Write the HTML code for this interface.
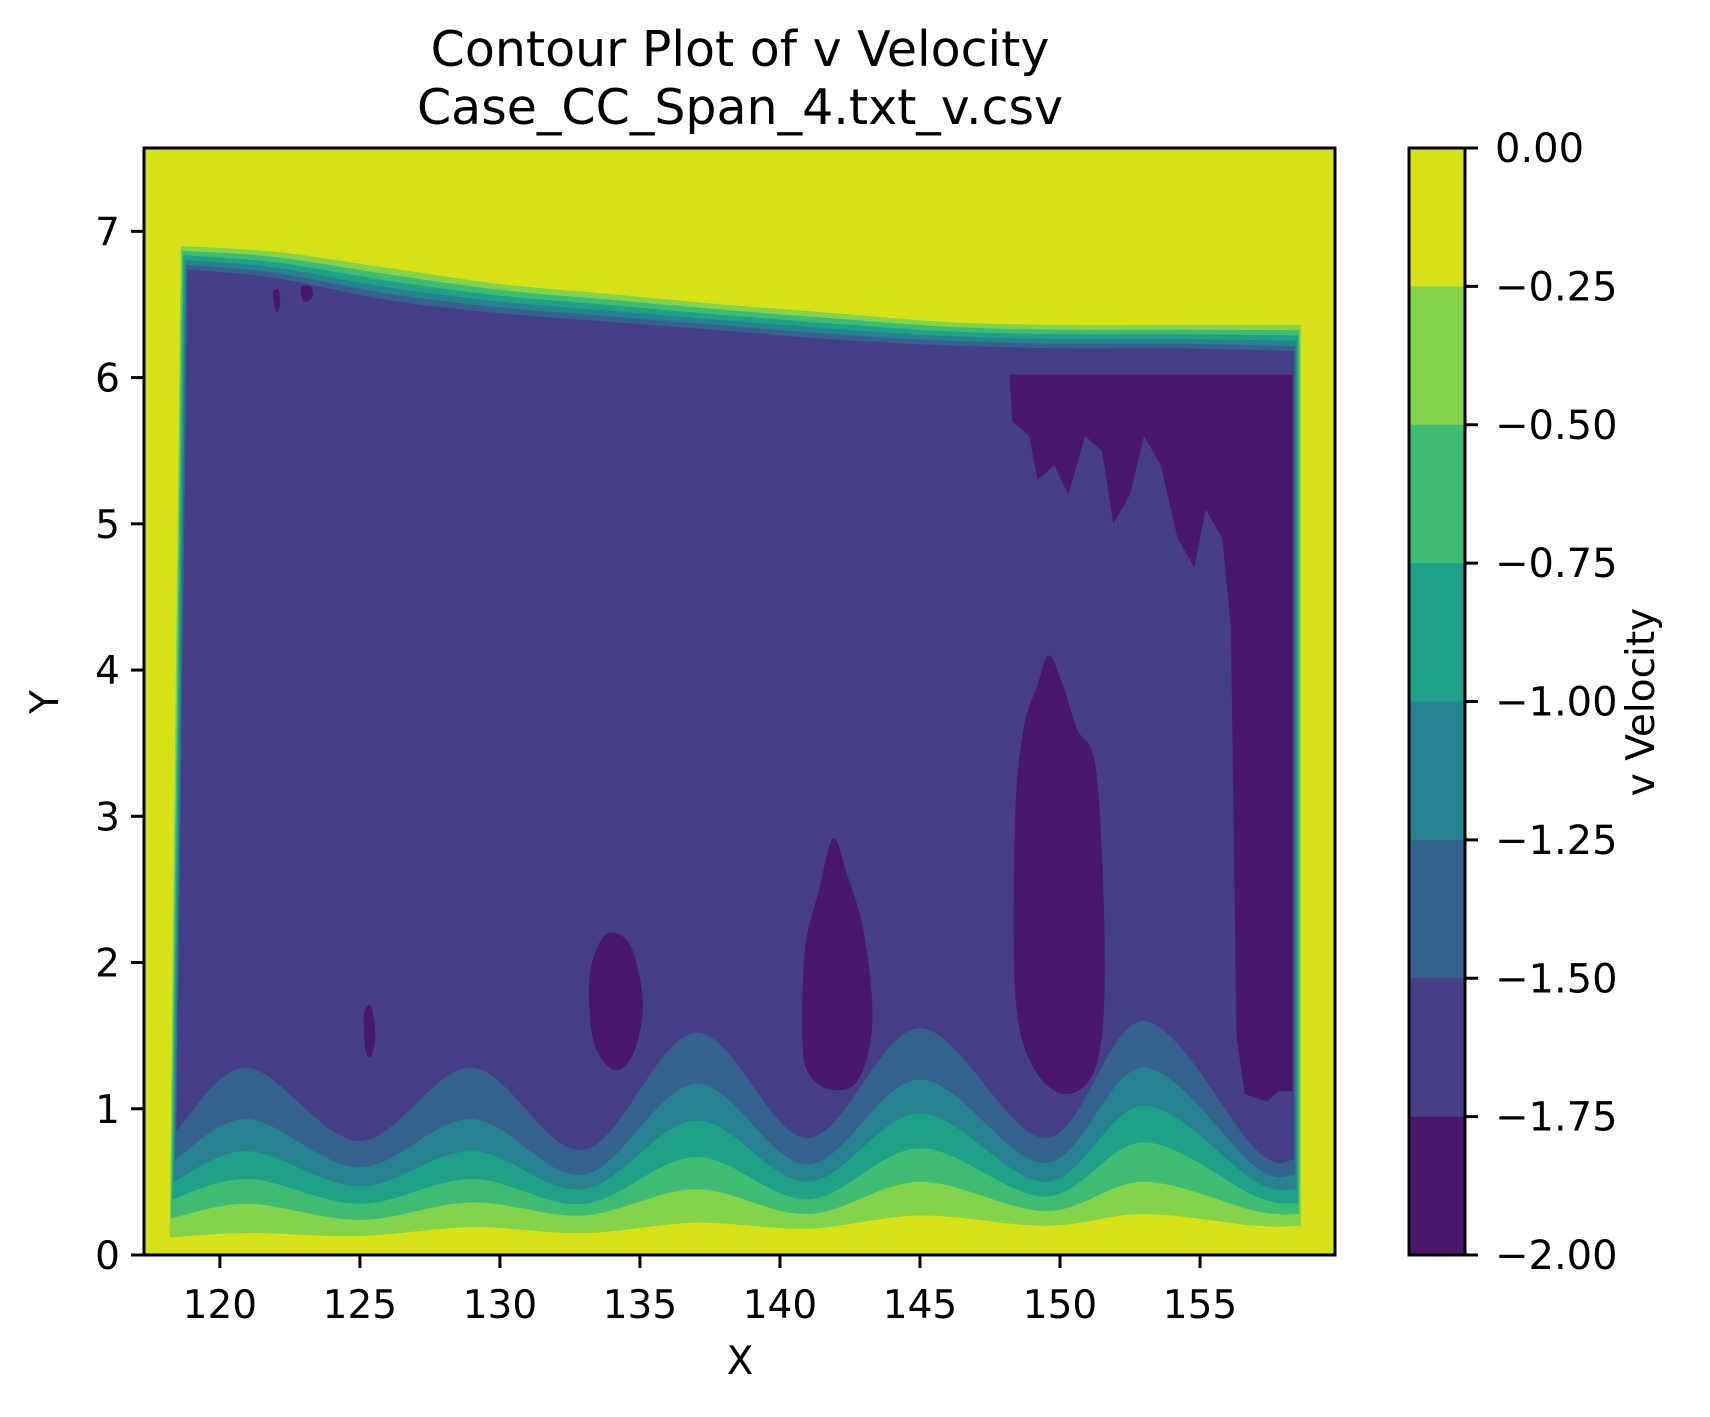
<!DOCTYPE html>
<html><head><meta charset="utf-8"><style>
html,body{margin:0;padding:0;background:#fff;}
svg{display:block;font-family:"DejaVu Sans","Liberation Sans",sans-serif;}
</style></head><body>
<svg id="chart" width="1710" height="1417" viewBox="0 0 1710 1417" xmlns="http://www.w3.org/2000/svg">
<text x="740" y="66" font-size="49" text-anchor="middle">Contour Plot of v Velocity</text>
<text x="740" y="124" font-size="49" text-anchor="middle">Case_CC_Span_4.txt_v.csv</text>
<g id="plot"></g>
<g id="axes"></g>
<g id="cbar"></g>
<text x="740" y="1374" font-size="39" text-anchor="middle">X</text>
<text transform="translate(58,702) rotate(-90)" font-size="39" text-anchor="middle">Y</text>
<text transform="translate(1654,702) rotate(-90)" font-size="39" text-anchor="middle">v Velocity</text>
</svg>
<script>
// ---- data ----
const xTicks = [120,125,130,135,140,145,150,155];
const yTicks = [0,1,2,3,4,5,6,7];
const levels = [0,-0.25,-0.5,-0.75,-1,-1.25,-1.5,-1.75,-2];
const levelLabels = ["0.00","\u22120.25","\u22120.50","\u22120.75","\u22121.00","\u22121.25","\u22121.50","\u22121.75","\u22122.00"];
const bandColors = ["#d8e219","#84d44b","#3fbc73","#1fa187","#26828e","#34618d","#433e85","#481769"];
// bottom boundaries
const xsB = [118.5,121,125,129,133,137,141,145,149.5,153,157,158.6];
const b025 = [0.12,0.15,0.13,0.19,0.15,0.22,0.18,0.27,0.20,0.28,0.20,0.20];
const b050 = [0.25,0.35,0.24,0.36,0.27,0.45,0.28,0.50,0.30,0.50,0.30,0.28];
const b075 = [0.38,0.52,0.35,0.52,0.35,0.67,0.38,0.73,0.40,0.77,0.40,0.35];
const b100 = [0.50,0.71,0.47,0.71,0.45,0.92,0.50,0.97,0.50,1.02,0.50,0.45];
const b125 = [0.65,0.93,0.60,0.93,0.55,1.17,0.62,1.20,0.63,1.28,0.60,0.55];
const b150 = [0.85,1.28,0.78,1.28,0.72,1.52,0.80,1.55,0.80,1.60,0.72,0.65];
// top boundaries
const xsT = [118.6,122,126,130,134,138,142,146,150,154,158.6];
const tEdge = [6.90,6.86,6.75,6.64,6.57,6.50,6.44,6.38,6.36,6.36,6.36];
const tInner = [6.74,6.68,6.53,6.44,6.38,6.32,6.26,6.22,6.20,6.20,6.18];
// dark (< -1.75) regions
const blob1 = [[133.3,1.5],[133.2,1.9],[133.6,2.15],[134.1,2.2],[134.7,2.1],[135.1,1.75],[134.9,1.45],[134.4,1.28],[133.8,1.3]];
const blob2 = [[140.8,1.5],[140.9,2.1],[141.4,2.5],[141.9,2.85],[142.4,2.6],[143.0,2.2],[143.3,1.6],[142.8,1.2],[141.8,1.13],[141.0,1.25]];
const blob3 = [[148.4,1.8],[148.4,3.0],[148.7,3.6],[149.2,3.9],[149.6,4.1],[150.1,3.9],[150.6,3.6],[151.3,3.3],[151.6,2.0],[151.3,1.3],[150.2,1.1],[149.0,1.3]];
const blobRight = [[156.6,1.1],[156.3,1.5],[156.2,3.0],[156.1,4.3],[155.8,4.9],[155.2,5.1],[154.8,4.7],[154.2,4.9],[153.6,5.4],[153.0,5.6],[152.5,5.2],[151.9,5.0],[151.5,5.5],[150.9,5.6],[150.3,5.2],[149.8,5.4],[149.2,5.3],[148.9,5.6],[148.3,5.7],[148.2,6.02],[158.3,6.02],[158.3,1.12],[157.8,1.12],[157.4,1.05]];
const blobSmall = [[125.2,1.4],[125.15,1.65],[125.4,1.7],[125.55,1.5],[125.4,1.36]];
const blobTop1 = [[123.0,6.52],[122.9,6.62],[123.25,6.62],[123.3,6.55]];
const blobTop2 = [[122.0,6.45],[121.9,6.58],[122.1,6.6],[122.15,6.5]];

// ---- scales ----
const X0=144, X1=1335, Y0=1255, Y1=148;
const xMin=117.29, xMax=159.82, yMin=0, yMax=7.57;
const sx = x => X0 + (x-xMin)/(xMax-xMin)*(X1-X0);
const sy = y => Y0 - (y-yMin)/(yMax-yMin)*(Y0-Y1);
const NS="http://www.w3.org/2000/svg";
function mk(tag, attrs, parent){const e=document.createElementNS(NS,tag);for(const k in attrs)e.setAttribute(k,attrs[k]);parent.appendChild(e);return e;}
function crOpen(pts){
  let d="";
  for(let i=0;i<pts.length-1;i++){
    const p0=pts[Math.max(0,i-1)],p1=pts[i],p2=pts[i+1],p3=pts[Math.min(pts.length-1,i+2)];
    const c1=[p1[0]+(p2[0]-p0[0])/6,p1[1]+(p2[1]-p0[1])/6];
    const c2=[p2[0]-(p3[0]-p1[0])/6,p2[1]-(p3[1]-p1[1])/6];
    d+=`C${c1[0].toFixed(1)},${c1[1].toFixed(1)} ${c2[0].toFixed(1)},${c2[1].toFixed(1)} ${p2[0].toFixed(1)},${p2[1].toFixed(1)} `;
  }
  return d;
}
function crClosed(pts){
  const n=pts.length;let d=`M${pts[0][0].toFixed(1)},${pts[0][1].toFixed(1)} `;
  for(let i=0;i<n;i++){
    const p0=pts[(i-1+n)%n],p1=pts[i],p2=pts[(i+1)%n],p3=pts[(i+2)%n];
    const c1=[p1[0]+(p2[0]-p0[0])/6,p1[1]+(p2[1]-p0[1])/6];
    const c2=[p2[0]-(p3[0]-p1[0])/6,p2[1]-(p3[1]-p1[1])/6];
    d+=`C${c1[0].toFixed(1)},${c1[1].toFixed(1)} ${c2[0].toFixed(1)},${c2[1].toFixed(1)} ${p2[0].toFixed(1)},${p2[1].toFixed(1)} `;
  }
  return d+"Z";
}
function linClosed(pts){
  return "M"+pts.map(p=>p[0].toFixed(1)+","+p[1].toFixed(1)).join(" L")+" Z";
}

const plot=document.getElementById('plot');
const bg=mk('rect',{x:X0,y:Y1,width:X1-X0,height:Y0-Y1,fill:bandColors[0]},plot);



const bottoms=[b025,b050,b075,b100,b125,b150];
const bandNames=['band-0.25-0.50','band-0.50-0.75','band-0.75-1.00','band-1.00-1.25','band-1.25-1.50','band-1.50-1.75'];
for(let i=0;i<6;i++){
  const inset=i*0.05;
  const top=xsT.map((x,j)=>[sx(j===0?x+inset:(j===xsT.length-1?x-inset:x)), sy(tEdge[j]-(i/5)*(tEdge[j]-tInner[j]))]);
  const bot=xsB.map((x,j)=>[sx(j===0?x-0.3+inset:(j===xsB.length-1?x-inset:x)), sy(bottoms[i][j])]).reverse();
  let d=`M${top[0][0].toFixed(1)},${top[0][1].toFixed(1)} `+crOpen(top);
  d+=`L${bot[0][0].toFixed(1)},${bot[0][1].toFixed(1)} `+crOpen(bot)+"Z";
  const p=mk('path',{d:d,fill:bandColors[i+1]},plot);
  
  
}
const blobs=[blob1,blob2,blob3,blobSmall,blobTop1,blobTop2];
const blobNames=['dark-region-134','dark-region-142','dark-region-150','dark-region-125','dark-region-top-1','dark-region-top-2'];
blobs.forEach((b,k)=>{
  const p=mk('path',{d:crClosed(b.map(q=>[sx(q[0]),sy(q[1])])),fill:bandColors[7]},plot);
  
  
});
const rp=mk('path',{d:linClosed(blobRight.map(q=>[sx(q[0]),sy(q[1])])),fill:bandColors[7],'stroke-linejoin':'round'},plot);



// ---- axes ----
const axes=document.getElementById('axes');
const frame=mk('rect',{x:X0,y:Y1,width:X1-X0,height:Y0-Y1,fill:'none',stroke:'#000','stroke-width':3},axes);


xTicks.forEach(t=>{
  const x=sx(t);
  const l=mk('line',{x1:x,y1:Y0,x2:x,y2:Y0+13,stroke:'#000','stroke-width':3},axes);
  
  
  const tx=mk('text',{x:x,y:Y0+63,'font-size':39,'text-anchor':'middle'},axes);
  tx.textContent=t;
  
  
});
yTicks.forEach(t=>{
  const y=sy(t);
  const l=mk('line',{x1:X0-13,y1:y,x2:X0,y2:y,stroke:'#000','stroke-width':3},axes);
  
  
  const tx=mk('text',{x:X0-24,y:y+14,'font-size':39,'text-anchor':'end'},axes);
  tx.textContent=t;
  
  
});

// ---- colorbar ----
const cb=document.getElementById('cbar');
const CX0=1409, CX1=1465, CY0=148, CY1=1255;
const cy=v=>CY0+(levels[0]-v)/(levels[0]-levels[levels.length-1])*(CY1-CY0);
for(let i=0;i<bandColors.length;i++){
  const r=mk('rect',{x:CX0,y:cy(levels[i]),width:CX1-CX0,height:cy(levels[i+1])-cy(levels[i])+0.5,fill:bandColors[i]},cb);
  
  
}
const cf=mk('rect',{x:CX0,y:CY0,width:CX1-CX0,height:CY1-CY0,fill:'none',stroke:'#000','stroke-width':3},cb);


levels.forEach((v,i)=>{
  const y=cy(v);
  const l=mk('line',{x1:CX1,y1:y,x2:CX1+13,y2:y,stroke:'#000','stroke-width':3},cb);
  
  
  const tx=mk('text',{x:CX1+30,y:y+14,'font-size':40},cb);
  tx.textContent=levelLabels[i];
  
  
});
</script>
</body></html>
